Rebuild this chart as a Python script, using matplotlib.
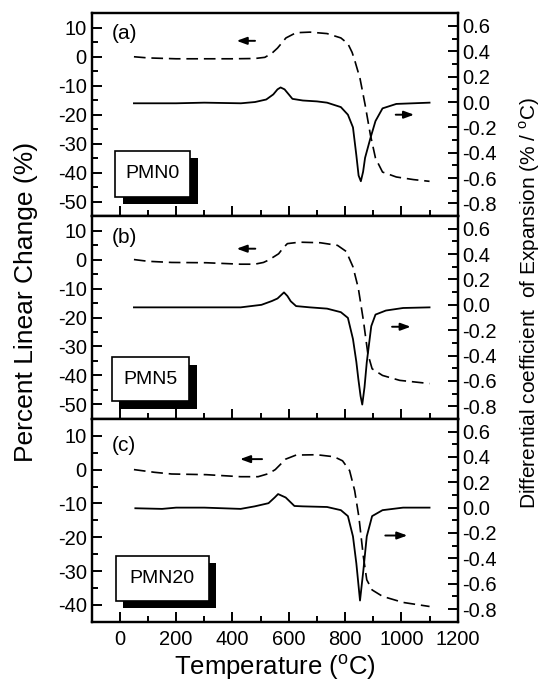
import matplotlib
matplotlib.use("Agg")
import matplotlib.pyplot as plt
from matplotlib.patches import Rectangle
import matplotlib.patheffects as pe
from matplotlib.ticker import MultipleLocator, FormatStrFormatter

plt.rcParams['font.family'] = ['Liberation Sans', 'DejaVu Sans']
plt.rcParams['axes.unicode_minus'] = False

# ---------------- data ----------------
labels = ["PMN0", "PMN5", "PMN20"]
panel_tags = ["(a)", "(b)", "(c)"]

# Panel (a) PMN0
a_dash_T = [50, 100, 200, 300, 400, 480, 515, 540, 560, 590, 626, 675, 736, 785, 810, 825, 835, 853, 871, 890, 908, 933, 982, 1043, 1100]
a_dash_L = [0.0, -0.4, -0.7, -0.7, -0.7, -0.6, -0.2, 1.2, 3.0, 6.5, 8.3, 8.5, 8.0, 6.5, 4.5, 1.5, -1.5, -7.5, -16.5, -27, -35, -39.8, -41.5, -42.4, -43]
a_sol_T = [50, 200, 300, 430, 480, 520, 545, 560, 571, 585, 600, 613, 650, 700, 736, 785, 810, 828, 840, 848, 856, 864, 871, 890, 908, 933, 982, 1100]
a_sol_R = [-0.01, -0.01, -0.005, -0.01, 0.0, 0.02, 0.06, 0.10, 0.115, 0.10, 0.06, 0.025, 0.012, 0.005, -0.005, -0.04, -0.1, -0.2, -0.42, -0.58, -0.625, -0.55, -0.44, -0.285, -0.15, -0.05, -0.015, -0.005]

# Panel (b) PMN5
b_dash_T = [50, 100, 184, 307, 429, 479, 510, 528, 564, 580, 595, 638, 712, 773, 804, 828, 847, 865, 881, 896, 933, 994, 1100]
b_dash_L = [0.0, -0.6, -1.0, -1.1, -1.6, -1.6, -1.0, -0.2, 2.0, 4.0, 5.5, 6.0, 5.8, 4.9, 2.8, -2.5, -9.9, -21, -32.6, -37.7, -40.0, -41.7, -42.8]
b_sol_T = [50, 200, 300, 429, 503, 540, 560, 583, 595, 607, 626, 675, 736, 785, 810, 828, 840, 847, 855, 861, 869, 877, 893, 908, 945, 1006, 1100]
b_sol_R = [-0.02, -0.02, -0.02, -0.02, 0.0, 0.03, 0.05, 0.098, 0.07, 0.028, -0.01, -0.02, -0.03, -0.058, -0.103, -0.27, -0.45, -0.584, -0.72, -0.787, -0.65, -0.454, -0.168, -0.077, -0.045, -0.025, -0.02]

# Panel (c) PMN20
c_dash_T = [50, 123, 184, 307, 429, 491, 528, 552, 589, 626, 699, 761, 791, 816, 834, 849, 865, 877, 896, 933, 1006, 1100]
c_dash_L = [0.0, -0.8, -1.3, -1.5, -2.1, -2.1, -1.2, 0.0, 3.1, 4.3, 4.4, 3.8, 2.6, -0.3, -6.2, -14, -25.8, -32.6, -35.6, -37.5, -39.3, -40.5]
c_sol_T = [55, 150, 200, 300, 429, 479, 528, 550, 562, 589, 620, 650, 736, 785, 810, 828, 840, 853, 865, 877, 896, 933, 1006, 1100]
c_sol_R = [-0.005, -0.01, 0.0, 0.0, -0.01, 0.01, 0.035, 0.08, 0.107, 0.08, 0.013, 0.01, 0.005, -0.02, -0.067, -0.227, -0.44, -0.733, -0.493, -0.227, -0.067, -0.02, 0.0, 0.0]

left_ylims = [(-55, 15), (-55, 15), (-45, 15)]
right_ylim = (-0.9, 0.7)
xlim = (-100, 1200)

# arrows: (T_start, T_end, value)
left_arrows = [(490, 405, 5.5), (491, 405, 3.75), (515, 417, 3.1)]
right_arrows = [(970, 1055, -0.1), (957, 1043, -0.173), (933, 1031, -0.22)]
# boxes: (T0, T1, L0, L1)
boxes = [(-17, 249, -48.3, -32.4), (-29, 246, -48.9, -33.6), (-15, 315, -38.8, -25.5)]
tag_y = [8.0, 7.5, 7.1]

series = [(a_dash_T, a_dash_L, a_sol_T, a_sol_R),
          (b_dash_T, b_dash_L, b_sol_T, b_sol_R),
          (c_dash_T, c_dash_L, c_sol_T, c_sol_R)]

# ---------------- figure ----------------
W, H = 541, 683
fig = plt.figure(figsize=(W / 100, H / 100), dpi=100)
left_px, right_px = 91.7, 457.7
top_px, bot_px = 13.3, 621.7
ph = (bot_px - top_px) / 3

TICK_FS = 14.5
for i in range(3):
    y_top = top_px + i * ph
    ax = fig.add_axes([left_px / W, 1 - (y_top + ph) / H, (right_px - left_px) / W, ph / H])
    axr = ax.twinx()
    dT, dL, sT, sR = series[i]
    ax.plot(dT, dL, color='black', lw=1.2, linestyle=(0, (7, 3.5)))
    axr.plot(sT, sR, color='black', lw=1.3)

    ax.set_xlim(*xlim)
    ax.set_ylim(*left_ylims[i])
    axr.set_ylim(*right_ylim)

    ax.xaxis.set_major_locator(MultipleLocator(200))
    ax.xaxis.set_minor_locator(MultipleLocator(100))
    ax.yaxis.set_major_locator(MultipleLocator(10))
    ax.yaxis.set_minor_locator(MultipleLocator(5))
    axr.yaxis.set_major_locator(MultipleLocator(0.2))
    axr.yaxis.set_minor_locator(MultipleLocator(0.1))
    axr.yaxis.set_major_formatter(FormatStrFormatter('%.1f'))

    for a in (ax, axr):
        for sp in a.spines.values():
            sp.set_linewidth(1.6)
    ax.tick_params(axis='both', which='major', direction='in', length=7, width=1.4, labelsize=TICK_FS)
    ax.tick_params(axis='both', which='minor', direction='in', length=4, width=1.4)
    ax.tick_params(axis='x', top=False, which='both')
    axr.tick_params(axis='y', which='major', direction='in', length=7, width=1.4, labelsize=TICK_FS)
    axr.tick_params(axis='y', which='minor', direction='in', length=4, width=1.4)
    if i < 2:
        ax.tick_params(axis='x', labelbottom=False)
    else:
        ax.tick_params(axis='x', pad=6)

    # arrows
    t0, t1, v = left_arrows[i]
    ax.annotate('', xy=(t1, v), xytext=(t0, v),
                arrowprops=dict(arrowstyle='-|>,head_length=0.6,head_width=0.22', color='black', lw=1.4))
    t0, t1, v = right_arrows[i]
    axr.annotate('', xy=(t1, v), xytext=(t0, v),
                 arrowprops=dict(arrowstyle='-|>,head_length=0.6,head_width=0.22', color='black', lw=1.4))

    # label box with shadow
    x0, x1, yb0, yb1 = boxes[i]
    rect = Rectangle((x0, yb0), x1 - x0, yb1 - yb0, facecolor='white', edgecolor='black', lw=1.2, zorder=5,
                     path_effects=[pe.SimplePatchShadow(offset=(5.5, -5.5), shadow_rgbFace='black', alpha=1.0), pe.Normal()])
    ax.add_patch(rect)
    ax.text((x0 + x1) / 2, (yb0 + yb1) / 2, labels[i], ha='center', va='center', fontsize=14, zorder=6)
    ax.text(-30, tag_y[i], panel_tags[i], ha='left', va='center', fontsize=15)

    if i == 2:
        ax.set_xlabel('Temperature ($^{\\mathregular{o}}$C)', fontsize=18.5, labelpad=2)

fig.text(26 / W, 1 - 302 / H, 'Percent Linear Change (%)', rotation=90, ha='center', va='center', fontsize=19)
fig.text(530 / W, 1 - 303 / H, 'Differential coefficient  of Expansion (% / $^{\\mathregular{o}}$C)',
         rotation=90, ha='center', va='center', fontsize=15)

fig.savefig('out.png', dpi=100)
